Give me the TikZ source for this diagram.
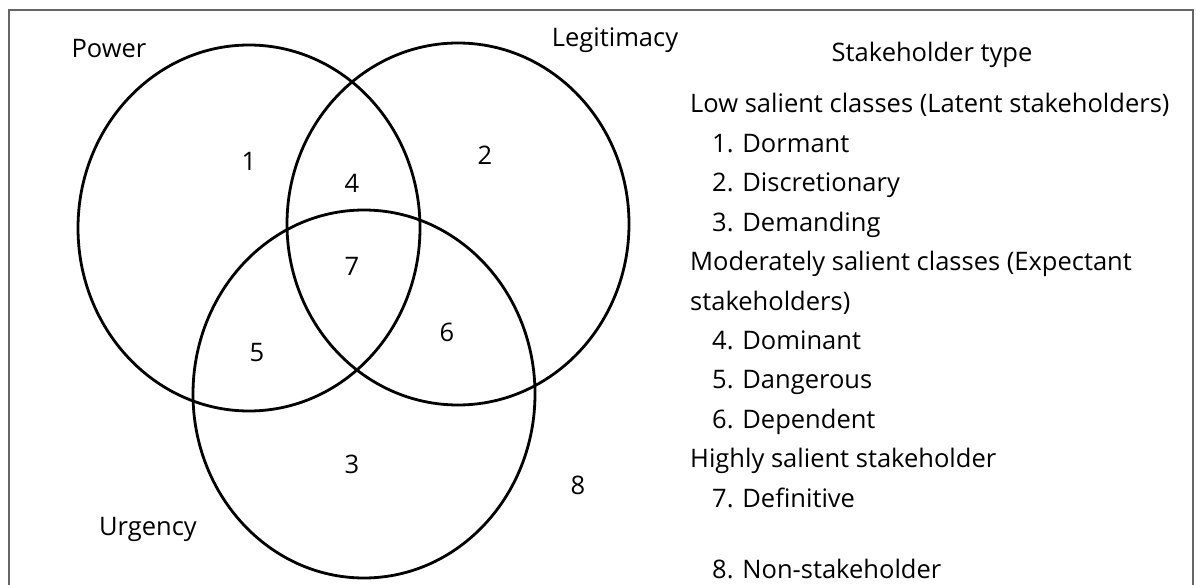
\documentclass[tikz,border=0pt]{standalone}
\usepackage{fontspec}
\setmainfont{Open Sans}
\begin{document}
\begin{tikzpicture}[x=1pt,y=-1pt,
  setline/.style={line width=2.8pt,draw=black},
  frameline/.style={line width=2pt,draw=black!60},
  txt/.style={font=\fontsize{25.5}{30}\selectfont,inner sep=0pt,text=black},
  num/.style={txt,anchor=center},
  head/.style={txt,anchor=base west},
  item/.style={txt,anchor=base west}]
\useasboundingbox (0,0) rectangle (1196,585);
\fill[white] (0,0) rectangle (1196,585);

% open frame around the figure
\draw[frameline] (9,586) -- (9,10) -- (1193,10) -- (1193,586);

% the three attribute sets
\coordinate (P) at (249,228);
\coordinate (L) at (458,224);
\coordinate (U) at (364,394);
\draw[setline] (P) ellipse [x radius=171,y radius=183];
\draw[setline] (L) ellipse [x radius=171,y radius=181];
\draw[setline] (U) ellipse [x radius=171,y radius=184];

% set names
\node[txt,anchor=base] (power) at (109,58) {Power};
\node[txt,anchor=base] (legit) at (615,47) {Legitimacy};
\node[txt,anchor=base] (urg) at (148,535) {Urgency};

% region numbers
\node[num] (r1) at (249,161) {1};
\node[num] (r2) at (485,155) {2};
\node[num] (r3) at (352,464) {3};
\node[num] (r4) at (352,183) {4};
\node[num] (r5) at (257,353) {5};
\node[num] (r6) at (447,332) {6};
\node[num] (r7) at (352,266) {7};
\node[num] (r8) at (578,485) {8};

% key
\node[txt,anchor=base] (key) at (932,61.5) {Stakeholder type};
\node[head] (h1) at (690,113) {Low salient classes (Latent stakeholders)};
\node[item] (k1) at (712,152.4) {1. Dormant};
\node[item] (k2) at (712,191.8) {2. Discretionary};
\node[item] (k3) at (712,231.2) {3. Demanding};
\node[head] (h2) at (690,270.6) {Moderately salient classes (Expectant};
\node[head] (h2b) at (690,310) {stakeholders)};
\node[item] (k4) at (712,349.4) {4. Dominant};
\node[item] (k5) at (712,388.8) {5. Dangerous};
\node[item] (k6) at (712,428.2) {6. Dependent};
\node[head] (h3) at (690,467.6) {Highly salient stakeholder};
\node[item] (k7) at (712,507) {7. Definitive};
\node[item] (k8) at (712,578) {8. Non-stakeholder};
\end{tikzpicture}
\end{document}
